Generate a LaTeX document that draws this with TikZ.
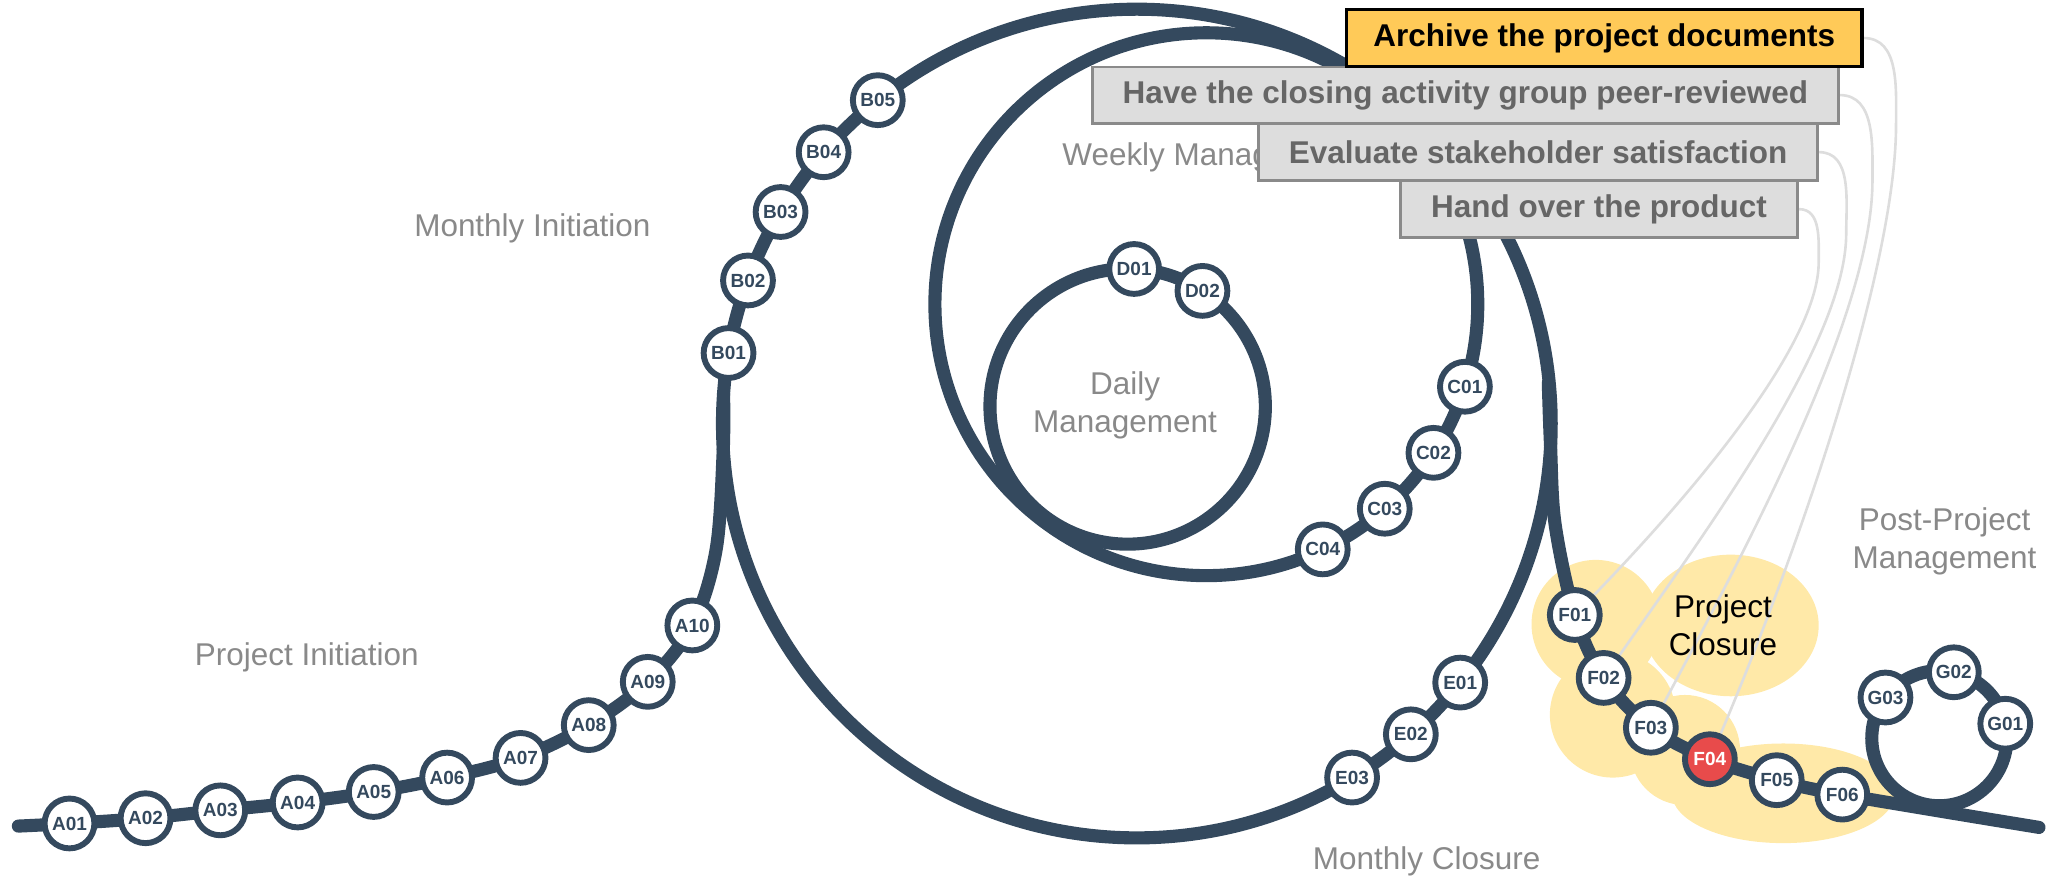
\documentclass[tikz,border=0pt]{standalone}
\usepackage{fontspec}
\setmainfont{Liberation Sans}
\usetikzlibrary{calc}
\definecolor{track}{HTML}{34495E}
\definecolor{lbl}{HTML}{898989}
\definecolor{blobc}{HTML}{FFE9A8}
\definecolor{hl}{HTML}{E84B4B}
\definecolor{boxfill}{HTML}{DDDDDD}
\definecolor{boxline}{HTML}{8A8A8A}
\definecolor{boxtext}{HTML}{666666}
\definecolor{archfill}{HTML}{FFCA58}
\definecolor{linkc}{HTML}{DDDDDD}
\pgfdeclarelayer{blobs}
\pgfdeclarelayer{links}
\pgfdeclarelayer{tracks}
\pgfsetlayers{blobs,links,tracks,main}
\tikzset{
  stopnode/.style={circle, draw=track, line width=4.5pt, fill=white, minimum size=38pt,
    inner sep=0pt, text=track, font=\fontsize{14.5}{15}\selectfont\bfseries},
  stophl/.style={stopnode, fill=hl, text=white},
  trackline/.style={draw=track, line width=10pt, line cap=round},
  phaselbl/.style={text=lbl, font=\fontsize{24}{29}\selectfont, align=center, inner sep=0pt},
  taskbox/.style={draw=boxline, line width=2pt, fill=boxfill, text=boxtext,
    font=\fontsize{24}{29}\selectfont\bfseries, minimum height=43pt, inner sep=0pt},
  taskboxhl/.style={taskbox, draw=black, line width=2.5pt, fill=archfill, text=black},
  linkline/.style={draw=linkc, line width=2pt},
}
\begin{document}
\begin{tikzpicture}[x=1pt,y=1pt]
\useasboundingbox (0,0) rectangle (1568,-673);
% circle centres
\coordinate (Mc) at (867,-323);
\coordinate (Wc) at (920,-232);
\coordinate (Dc) at (860,-310);
\coordinate (Gc) at (1479,-563);
\coordinate (Astart) at (14,-630);
\coordinate (Gend) at (1555,-631);
\coordinate (J1) at (546,-420);
\coordinate (J2) at (551.5,-345);
\coordinate (J3) at (551.8,-300);
\coordinate (K1) at (1180.8,-292);
\coordinate (K2) at (1182.5,-340);
\coordinate (K3) at (1186,-400);
\coordinate (V4) at (1446,-95);
\coordinate (V3) at (1428,-138);
\coordinate (V2) at (1408,-178);
\coordinate (V1) at (1387,-200);

% blob
\begin{pgfonlayer}{blobs}
\fill[blobc] (1217,-476) circle[radius=49pt];
\fill[blobc] (1320,-477) ellipse[x radius=67pt, y radius=54pt];
\fill[blobc] (1230,-545) circle[radius=48pt];
\fill[blobc] (1285,-572) circle[radius=42pt];
\fill[blobc] (1360,-605) ellipse[x radius=85pt, y radius=38pt];
\end{pgfonlayer}

% stops
\node[stopnode] (A01) at (53,-628) {A01};
\node[stopnode] (A02) at (111,-624) {A02};
\node[stopnode] (A03) at (168,-618) {A03};
\node[stopnode] (A04) at (227,-612) {A04};
\node[stopnode] (A05) at (285,-604) {A05};
\node[stopnode] (A06) at (341,-593) {A06};
\node[stopnode] (A07) at (397,-578) {A07};
\node[stopnode] (A08) at (449,-553) {A08};
\node[stopnode] (A09) at (494,-520) {A09};
\node[stopnode] (A10) at (528,-477) {A10};
\node[stopnode] (B01) at ($(Mc)+(170.2:316pt)$) {B01};
\node[stopnode] (B02) at ($(Mc)+(159.8:316pt)$) {B02};
\node[stopnode] (B03) at ($(Mc)+(149.3:316pt)$) {B03};
\node[stopnode] (B04) at ($(Mc)+(139.1:316pt)$) {B04};
\node[stopnode] (B05) at ($(Mc)+(128.7:316pt)$) {B05};
\node[stopnode] (C01) at ($(Wc)+(-17.7:207pt)$) {C01};
\node[stopnode] (C02) at ($(Wc)+(-33.2:207pt)$) {C02};
\node[stopnode] (C03) at ($(Wc)+(-48.9:207pt)$) {C03};
\node[stopnode] (C04) at ($(Wc)+(-64.6:207pt)$) {C04};
\node[stopnode] (D01) at ($(Dc)+(87.3:105pt)$) {D01};
\node[stopnode] (D02) at ($(Dc)+(57.1:105pt)$) {D02};
\node[stopnode] (E01) at ($(Mc)+(-38.7:316pt)$) {E01};
\node[stopnode] (E02) at ($(Mc)+(-48.6:316pt)$) {E02};
\node[stopnode] (E03) at ($(Mc)+(-58.7:316pt)$) {E03};
\node[stopnode] (F01) at (1201,-469) {F01};
\node[stopnode] (F02) at (1223,-517) {F02};
\node[stopnode] (F03) at (1259,-555) {F03};
\node[stophl] (F04) at (1304,-579) {F04};
\node[stopnode] (F05) at (1355,-595) {F05};
\node[stopnode] (F06) at (1405,-606) {F06};
\node[stopnode] (G01) at ($(Gc)+(12.4:51.5pt)$) {G01};
\node[stopnode] (G02) at ($(Gc)+(77.6:51.5pt)$) {G02};
\node[stopnode] (G03) at ($(Gc)+(142.9:51.5pt)$) {G03};

% tracks
\begin{pgfonlayer}{tracks}
\draw[trackline] (Mc) circle[radius=316pt];
\draw[trackline] (Wc) circle[radius=207pt];
\draw[trackline] (Dc) circle[radius=105pt];
\draw[trackline] (Gc) circle[radius=51.5pt];
\draw[trackline] plot[smooth, tension=0.55] coordinates
  {(Astart) (A01) (A02) (A03) (A04) (A05) (A06) (A07) (A08) (A09) (A10) (J1) (J2) (J3)};
\draw[trackline] plot[smooth, tension=0.55] coordinates
  {(K1) (K2) (K3) (F01) (F02) (F03) (F04) (F05) (F06) (Gend)};
\end{pgfonlayer}

% labels
\node[phaselbl] (lMI) at (406,-174) {Monthly Initiation};
\node[phaselbl, anchor=west] (lWM) at (810,-120) {Weekly Management};
\node[phaselbl] (lDM) at (858,-309) {Daily\\Management};
\node[phaselbl] (lPI) at (234,-501) {Project Initiation};
\node[phaselbl] (lMC) at (1088,-657) {Monthly Closure};
\node[phaselbl] (lPP) at (1483,-413) {Post-Project\\Management};
\node[phaselbl, text=black] (lPC) at (1314,-477) {Project\\Closure};

% task boxes
\node[taskbox, minimum width=426pt] (t3) at (1173,-116) {Evaluate stakeholder satisfaction};
\node[taskbox, minimum width=303pt] (t4) at (1219.5,-159.5) {Hand over the product};
\node[taskbox, minimum width=569pt] (t2) at (1117.5,-72.5) {Have the closing activity group peer-reviewed};
\node[taskboxhl, minimum width=393pt] (t1) at (1223.5,-29) {Archive the project documents};

% links
\begin{pgfonlayer}{links}
\draw[linkline] (t1.east) to[out=0,in=90] (V4) .. controls +(0,-110) and +(67:150) .. (F04.67);
\draw[linkline] (t2.east) to[out=0,in=90] (V3) .. controls +(0,-100) and +(62:140) .. (F03.62);
\draw[linkline] (t3.east) to[out=0,in=90] (V2) .. controls +(0,-80) and +(55:130) .. (F02.55);
\draw[linkline] (t4.east) to[out=0,in=90] (V1) .. controls +(0,-60) and +(46:120) .. (F01.46);
\end{pgfonlayer}
\end{tikzpicture}
\end{document}
